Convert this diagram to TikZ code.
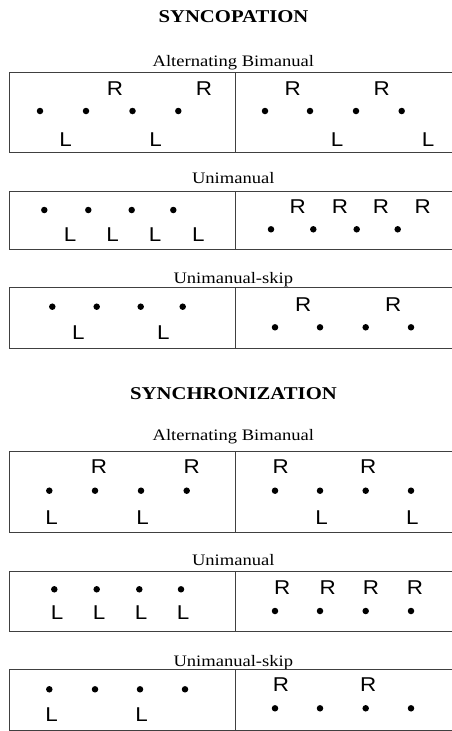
\documentclass[tikz,border=0pt]{standalone}
\usepackage{fontspec}
\setmainfont{Liberation Serif}
\setsansfont{Liberation Sans}
\newcommand{\stretchx}[2]{\scalebox{#1}[1]{#2}}
\tikzset{
  frame/.style={draw=black!75, line width=0.8pt},
  dot/.style={circle, fill=black, inner sep=0pt, minimum size=6.5pt},
  hand/.style={inner sep=0pt, font=\sffamily\fontsize{20}{20}\selectfont},
  heading/.style={inner sep=0pt, anchor=base, font=\bfseries\fontsize{18}{18}\selectfont},
  caption/.style={inner sep=0pt, anchor=base, font=\fontsize{16}{16}\selectfont},
}
\newcommand{\R}{\stretchx{1.12}{R}}
\newcommand{\Lh}{\stretchx{1.12}{L}}
\begin{document}
\begin{tikzpicture}[x=1pt,y=-1pt]
\useasboundingbox (0,0) rectangle (452,731);

% ---------- headings ----------
\node[heading] (syncop) at (233.5,22.3) {\stretchx{1.15}{SYNCOPATION}};
\node[heading] (synchr) at (233.5,399.3) {\stretchx{1.15}{SYNCHRONIZATION}};

% ---------- captions ----------
\node[caption] (c1) at (233.3,66) {\stretchx{1.16}{Alternating Bimanual}};
\node[caption] (c2) at (233.3,183) {\stretchx{1.16}{Unimanual}};
\node[caption] (c3) at (233.3,283.3) {\stretchx{1.16}{Unimanual-skip}};
\node[caption] (c4) at (233.3,440.7) {\stretchx{1.16}{Alternating Bimanual}};
\node[caption] (c5) at (233.3,565) {\stretchx{1.16}{Unimanual}};
\node[caption] (c6) at (233.3,666) {\stretchx{1.16}{Unimanual-skip}};

% ---------- frames ----------
\foreach \t/\b in {72/152.7, 191/249.3, 287/348.3, 451/532.7, 571.7/631.7, 669.3/730}{
  \draw[frame] (452,\t) -- (9,\t) -- (9,\b) -- (452,\b);
  \draw[frame] (235,\t) -- (235,\b);
}

% ---------- Syncopation: Alternating Bimanual ----------
\foreach \x [count=\i] in {40,86,132.5,178.3,265,310,356,401.7}
  \node[dot] (a\i) at (\x,111) {};
\foreach \x [count=\i] in {115,204,292.7,381.7}
  \node[hand] (aR\i) at (\x,88.5) {\R};
\foreach \x [count=\i] in {65.7,155.7,337,428}
  \node[hand] (aL\i) at (\x,140) {\Lh};

% ---------- Syncopation: Unimanual ----------
\foreach \x [count=\i] in {44.3,88.3,131.7,173.3}
  \node[dot] (bl\i) at (\x,210) {};
\foreach \x [count=\i] in {70,112.7,155,198.3}
  \node[hand] (bL\i) at (\x,235) {\Lh};
\foreach \x [count=\i] in {297.7,340,381,422.7}
  \node[hand] (bR\i) at (\x,206.7) {\R};
\foreach \x [count=\i] in {271,313.3,356.7,397.7}
  \node[dot] (br\i) at (\x,229.3) {};

% ---------- Syncopation: Unimanual-skip ----------
\foreach \x [count=\i] in {52.3,96.7,140.7,182.7}
  \node[dot] (cl\i) at (\x,306.7) {};
\foreach \x [count=\i] in {78.3,163.3}
  \node[hand] (cL\i) at (\x,332.7) {\Lh};
\foreach \x [count=\i] in {303.3,393.3}
  \node[hand] (cR\i) at (\x,305) {\R};
\foreach \x [count=\i] in {275,320,365.7,411}
  \node[dot] (cr\i) at (\x,327.3) {};

% ---------- Synchronization: Alternating Bimanual ----------
\foreach \x [count=\i] in {99,191.7,280.7,368.3}
  \node[hand] (dR\i) at (\x,466.7) {\R};
\foreach \x [count=\i] in {49.3,95,141,186.7,275,320,365.7,411}
  \node[dot] (d\i) at (\x,490.7) {};
\foreach \x [count=\i] in {51.7,142.7,321.7,412.3}
  \node[hand] (dL\i) at (\x,517.7) {\Lh};

% ---------- Synchronization: Unimanual ----------
\foreach \x [count=\i] in {54.3,96.7,139.3,181}
  \node[dot] (el\i) at (\x,589.3) {};
\foreach \x [count=\i] in {57,99,141,183}
  \node[hand] (eL\i) at (\x,612.7) {\Lh};
\foreach \x [count=\i] in {282.3,327.7,371,415}
  \node[hand] (eR\i) at (\x,587.7) {\R};
\foreach \x [count=\i] in {275,320,365.7,411}
  \node[dot] (er\i) at (\x,611) {};

% ---------- Synchronization: Unimanual-skip ----------
\foreach \x [count=\i] in {49.3,95,140,185}
  \node[dot] (fl\i) at (\x,689.3) {};
\foreach \x [count=\i] in {51.7,141.7}
  \node[hand] (fL\i) at (\x,715) {\Lh};
\foreach \x [count=\i] in {281,368.3}
  \node[hand] (fR\i) at (\x,685) {\R};
\foreach \x [count=\i] in {275,320,365.7,411}
  \node[dot] (fr\i) at (\x,708.3) {};
\end{tikzpicture}
\end{document}
